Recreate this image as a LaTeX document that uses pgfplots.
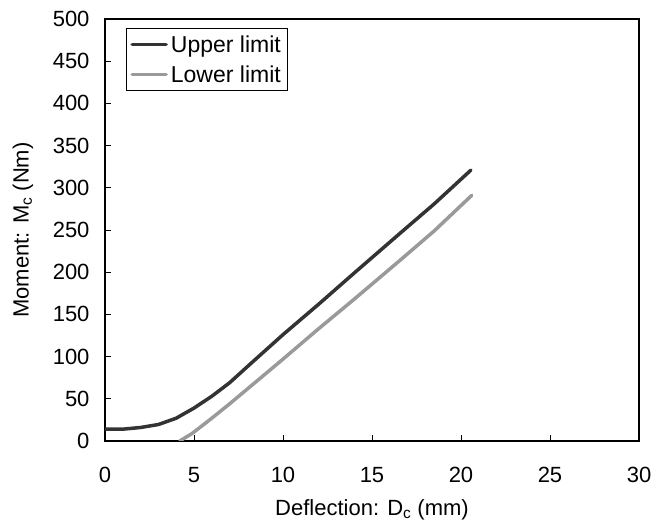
\documentclass[border=0pt]{standalone}
\usepackage{fontspec}
\setmainfont{Liberation Sans}
\usepackage{pgfplots}
\pgfplotsset{compat=1.18}
\usetikzlibrary{calc}
\definecolor{upper}{HTML}{333333}
\definecolor{lower}{HTML}{9A9A9A}
\begin{document}
\begin{tikzpicture}[font=\fontsize{22bp}{26bp}\selectfont]
\begin{axis}[
  name=ax,
  scale only axis,
  width=534bp, height=422bp,
  xmin=0, xmax=30, ymin=0, ymax=500,
  xtick={0,5,...,30}, ytick={0,50,...,500},
  xtick pos=bottom, ytick pos=left,
  tick align=inside,
  major tick length=6bp,
  tick style={black, line width=0.8bp},
  axis line style={black, line width=1.3bp},
  /pgf/number format/assume math mode=true,
  xticklabel style={anchor=center, yshift=-34bp},
  yticklabel style={anchor=east, xshift=-12bp},
  xlabel={Deflection: D\textsubscript{c} (mm)},
  ylabel={Moment: M\textsubscript{c} (Nm)},
  xlabel style={at={($(axis description cs:0.5,0)+(0,-69bp)$)}, anchor=center},
  ylabel style={at={($(axis description cs:0,0.5)+(-82bp,0)$)}, anchor=center},
  legend style={at={(rel axis cs:0,1)}, anchor=north west, xshift=21bp, yshift=-9bp,
    draw=black, line width=0.8bp, inner xsep=4bp, inner ysep=6bp, row sep=10bp,
    nodes={inner xsep=3bp, inner ysep=1bp},
    font=\fontsize{23bp}{26bp}\selectfont},
  legend cell align=left,
  legend image code/.code={\draw[#1, line width=3.5bp] (0cm,0cm) -- (34bp,0cm);},
]
\addplot[upper, line width=3.5bp, line cap=round] coordinates {
(0,14) (1,14) (2,16) (3,19.5) (4,27) (5,39) (6,53) (7,69) (8.15,91) (10,126) (12,162) (14,199) (16.57,246) (18.5,281) (20.56,321)
};
\addlegendentry{Upper limit}
\addplot[lower, line width=3.5bp, line cap=round] coordinates {
(4.2,0) (4.9,9) (6,27) (7,44) (8.7,74) (10,97) (12,133) (14,168) (16.57,214) (18.5,249) (20.6,291)
};
\addlegendentry{Lower limit}
\end{axis}
\pgfresetboundingbox
\path ($(ax.south west)+(-105bp,-91bp)$) rectangle ($(ax.north east)+(16bp,19bp)$);
\end{tikzpicture}
\end{document}
